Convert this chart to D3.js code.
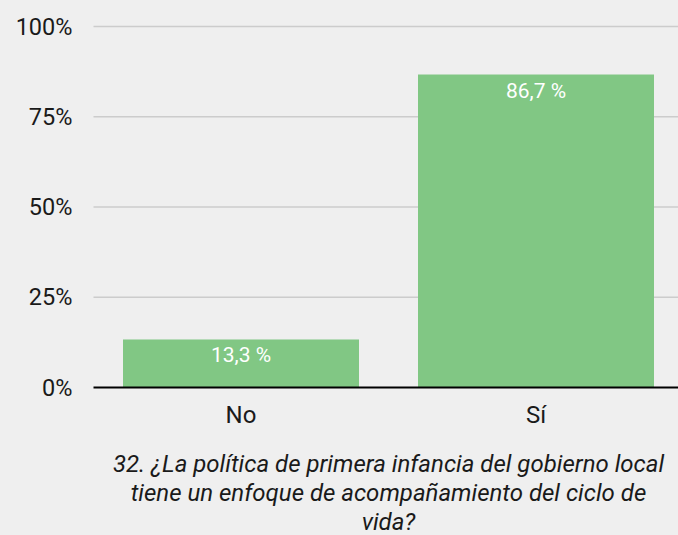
<!DOCTYPE html>
<html>
<head>
<meta charset="utf-8">
<script src="https://cdn.jsdelivr.net/npm/d3@7"></script>
<style>
  body { margin: 0; background: #efefef; }
  svg { display: block; font-family: Roboto, sans-serif; }
</style>
</head>
<body>
<script>
// datos
var categories = ["No", "Sí"];
var values = [13.3, 86.7];
var labels = ["13,3 %", "86,7 %"];
var ticks = [0, 25, 50, 75, 100];
var titleLines = [
  "32. ¿La política de primera infancia del gobierno local",
  "tiene un enfoque de acompañamiento del ciclo de",
  "vida?"
];

var width = 678, height = 535;
var margin = { top: 26.5, right: -5.5, bottom: 147.5, left: 93.5 };

var svg = d3.select("body").append("svg")
  .attr("width", width)
  .attr("height", height);

svg.append("rect")
  .attr("width", width)
  .attr("height", height)
  .attr("fill", "#efefef");

var x = d3.scaleBand()
  .domain(categories)
  .range([margin.left, width - margin.right])
  .paddingInner(0.2)
  .paddingOuter(0.1);

var y = d3.scaleLinear()
  .domain([0, 100])
  .range([height - margin.bottom, margin.top]);

// lineas de cuadricula
svg.append("g")
  .selectAll("line")
  .data(ticks.filter(function (d) { return d > 0; }))
  .enter()
  .append("line")
  .attr("x1", margin.left)
  .attr("x2", width)
  .attr("y1", function (d) { return y(d); })
  .attr("y2", function (d) { return y(d); })
  .attr("stroke", "#cccccc")
  .attr("stroke-width", 1.5);

// etiquetas eje y
var yAxis = svg.append("g")
  .attr("transform", "translate(" + margin.left + ",0)")
  .call(d3.axisLeft(y).tickValues(ticks).tickSize(0).tickPadding(21)
    .tickFormat(function (d) { return d + "%"; }));
yAxis.select(".domain").remove();
yAxis.selectAll("text")
  .attr("font-size", 23.5)
  .attr("font-family", "Roboto, sans-serif")
  .attr("fill", "#1a1a1a");

// barras
svg.append("g")
  .selectAll("rect")
  .data(values)
  .enter()
  .append("rect")
  .attr("x", function (d, i) { return x(categories[i]); })
  .attr("width", x.bandwidth())
  .attr("y", function (d) { return y(d); })
  .attr("height", function (d) { return y(0) - y(d); })
  .attr("fill", "#81c784");

// etiquetas de valor
svg.append("g")
  .selectAll("text")
  .data(values)
  .enter()
  .append("text")
  .attr("x", function (d, i) { return x(categories[i]) + x.bandwidth() / 2; })
  .attr("y", function (d) { return y(d) + 23; })
  .attr("text-anchor", "middle")
  .attr("font-size", 21)
  .attr("fill", "#ffffff")
  .text(function (d, i) { return labels[i]; });

// eje x
svg.append("line")
  .attr("x1", margin.left)
  .attr("x2", width)
  .attr("y1", y(0))
  .attr("y2", y(0))
  .attr("stroke", "#000")
  .attr("stroke-width", 2);

var xAxis = svg.append("g")
  .attr("transform", "translate(0," + y(0) + ")")
  .call(d3.axisBottom(x).tickSize(0).tickPadding(18));
xAxis.select(".domain").remove();
xAxis.selectAll("text")
  .attr("font-size", 24)
  .attr("font-family", "Roboto, sans-serif")
  .attr("fill", "#1a1a1a");

// titulo
svg.append("g")
  .selectAll("text")
  .data(titleLines)
  .enter()
  .append("text")
  .attr("x", (margin.left + width - margin.right) / 2)
  .attr("y", function (d, i) { return 471.5 + i * 29.3; })
  .attr("text-anchor", "middle")
  .attr("font-size", 24)
  .attr("font-style", "italic")
  .attr("fill", "#1a1a1a")
  .text(function (d) { return d; });
</script>
</body>
</html>
